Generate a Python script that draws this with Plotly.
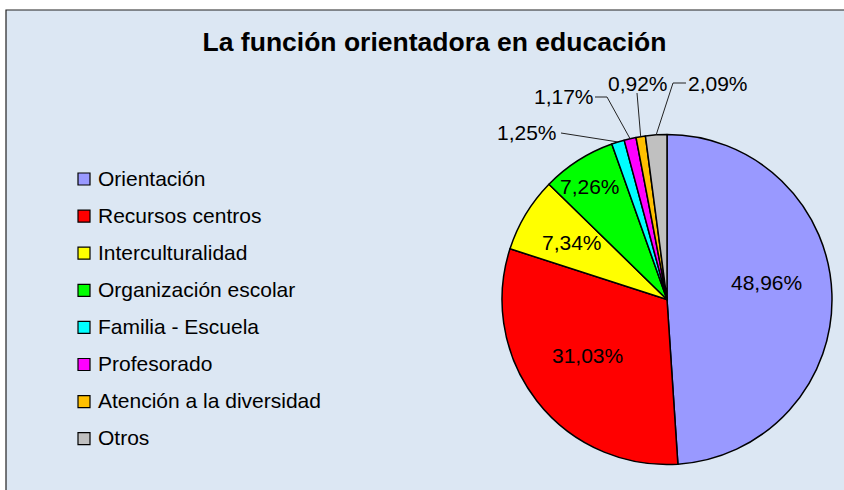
import math
import plotly.graph_objects as go

# ---- data ----
categories = ["Orientación", "Recursos centros", "Interculturalidad", "Organización escolar",
              "Familia - Escuela", "Profesorado", "Atención a la diversidad", "Otros"]
values = [48.96, 31.03, 7.34, 7.26, 1.25, 1.17, 0.92, 2.09]
colors = ["#9999FF", "#FF0000", "#FFFF00", "#00FF00", "#00FFFF", "#FF00FF", "#FFC000", "#C0C0C0"]
title_text = "La función orientadora en educación"

# ---- layout constants (pixels) ----
W, H = 844, 490
CX, CY, R = 667, 299.5, 165
FONT = "Arial, Liberation Sans, sans-serif"

def px2paper(x, y):
    return x / W, 1 - y / H

def pct(v):
    return f"{v:.2f}".replace(".", ",") + "%"

total = sum(values)
mids = []
cum = 0
for v in values:
    mids.append(360 * (cum + v / 2) / total)
    cum += v

def polar(angle_deg, rfrac):
    a = math.radians(angle_deg)
    return CX + R * rfrac * math.sin(a), CY - R * rfrac * math.cos(a)

fig = go.Figure(go.Pie(
    labels=categories, values=values, sort=False, direction="clockwise", rotation=0,
    marker=dict(colors=colors, line=dict(color="black", width=1.5)),
    textinfo="none", hoverinfo="label+percent", showlegend=False,
    domain=dict(x=[(CX - R) / W, (CX + R) / W], y=[(H - CY - R) / H, (H - CY + R) / H]),
))

shapes = []
annotations = []

# chart area background with border on top/left
x0, y0 = px2paper(6, 10)
shapes.append(dict(type="rect", xref="paper", yref="paper", x0=x0, y0=-0.05, x1=1.05, y1=y0,
                   fillcolor="#DCE7F3", line=dict(color="#222222", width=1.2), layer="below"))

# inside labels for large slices: (radius fraction, angular offset)
inside_place = {0: (0.61, -8), 1: (0.59, 2.6), 2: (0.67, 0), 3: (0.83, -1.8)}
for i, (rf, da) in inside_place.items():
    px, py = polar(mids[i] + da, rf)
    ax_, ay_ = px2paper(px, py)
    annotations.append(dict(x=ax_, y=ay_, xref="paper", yref="paper", text=pct(values[i]),
                            showarrow=False, font=dict(family=FONT, size=21, color="black"),
                            xanchor="center", yanchor="middle"))

# outside labels for small slices: text centre, leader path points (pixels)
outside_place = {
    4: ((527, 133), [(561, 133)]),
    5: ((564, 97), [(595, 97), (607, 97)]),
    6: ((638, 83), [(637, 93)]),
    7: ((718, 83), [(686, 83), (673, 83)]),
}
for i, (tc, pts) in outside_place.items():
    ex, ey = polar(mids[i], 1.0)
    tx, ty = px2paper(*tc)
    annotations.append(dict(x=tx, y=ty, xref="paper", yref="paper", text=pct(values[i]),
                            showarrow=False, font=dict(family=FONT, size=21, color="black"),
                            xanchor="center", yanchor="middle"))
    allp = pts + [(ex, ey)]
    path = ""
    for k, (qx, qy) in enumerate(allp):
        gx, gy = px2paper(qx, qy)
        path += ("M" if k == 0 else " L") + f"{gx},{gy}"
    shapes.append(dict(type="path", xref="paper", yref="paper", path=path,
                       line=dict(color="#222222", width=1), layer="above"))

# legend (manual)
LEG_Y0, LEG_DY = 178, 37.1
for i, (cat, col) in enumerate(zip(categories, colors)):
    yc = LEG_Y0 + i * LEG_DY
    sx0, sy0 = px2paper(78, yc - 5)
    sx1, sy1 = px2paper(90, yc + 7)
    shapes.append(dict(type="rect", xref="paper", yref="paper", x0=sx0, y0=sy1, x1=sx1, y1=sy0,
                       fillcolor=col, line=dict(color="black", width=1.2), layer="above"))
    lx, ly = px2paper(96, yc)
    annotations.append(dict(x=lx, y=ly, xref="paper", yref="paper", text=cat, showarrow=False,
                            font=dict(family=FONT, size=21, color="black"),
                            xanchor="left", yanchor="middle"))

tx, ty = px2paper(434.5, 42)
fig.update_layout(
    width=W, height=H, margin=dict(l=0, r=0, t=0, b=0),
    paper_bgcolor="white", plot_bgcolor="white",
    title=dict(text="<b>" + title_text + "</b>", x=tx, y=ty, xref="paper", yref="paper",
               xanchor="center", yanchor="middle",
               font=dict(family=FONT, size=26.5, color="black")),
    shapes=shapes, annotations=annotations, showlegend=False,
)

fig.write_html("out.html", config={"displayModeBar": False},
               post_script="document.body.style.margin='0px';document.body.style.overflow='hidden';")
